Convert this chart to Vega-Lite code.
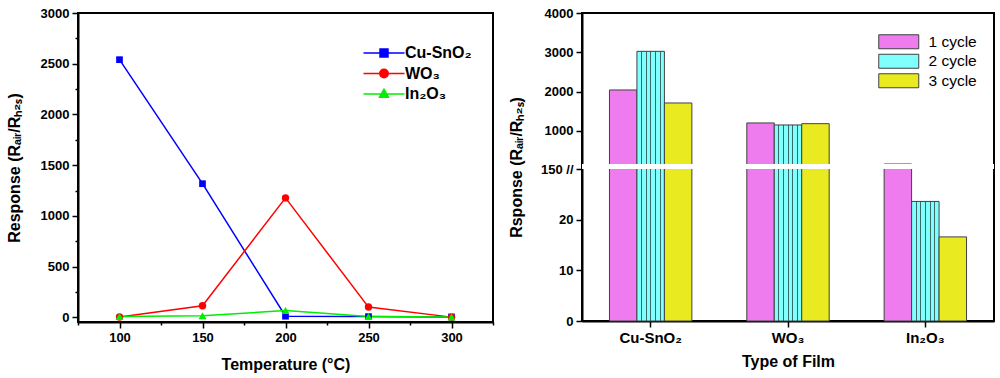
{
  "$schema": "https://vega.github.io/schema/vega-lite/v6.json",
  "background": "white",
  "padding": {"left": 5, "top": 6, "right": 5, "bottom": 0},
  "spacing": 12,
  "config": {
    "view": {"stroke": "black", "strokeWidth": 2},
    "axis": {
      "grid": false,
      "domainColor": "black", "domainWidth": 2,
      "tickColor": "black", "tickWidth": 1.5,
      "labelFont": "Liberation Sans", "labelFontWeight": "bold", "labelFontSize": 13, "labelColor": "black",
      "titleFont": "Liberation Sans", "titleFontWeight": "bold", "titleFontSize": 16, "titleColor": "black"
    },
    "legend": {"labelFont": "Liberation Sans", "labelColor": "black", "padding": 0}
  },
  "hconcat": [
    {
      "width": 415,
      "height": 309,
      "data": {"values": [
        {"temp": 100, "response": 2540, "film": "Cu-SnO₂"},
        {"temp": 150, "response": 1318, "film": "Cu-SnO₂"},
        {"temp": 200, "response": 12, "film": "Cu-SnO₂"},
        {"temp": 250, "response": 8, "film": "Cu-SnO₂"},
        {"temp": 300, "response": 5, "film": "Cu-SnO₂"},
        {"temp": 100, "response": 4, "film": "WO₃"},
        {"temp": 150, "response": 115, "film": "WO₃"},
        {"temp": 200, "response": 1178, "film": "WO₃"},
        {"temp": 250, "response": 102, "film": "WO₃"},
        {"temp": 300, "response": 3, "film": "WO₃"},
        {"temp": 100, "response": 10, "film": "In₂O₃"},
        {"temp": 150, "response": 16, "film": "In₂O₃"},
        {"temp": 200, "response": 68, "film": "In₂O₃"},
        {"temp": 250, "response": 10, "film": "In₂O₃"},
        {"temp": 300, "response": 5, "film": "In₂O₃"}
      ]},
      "encoding": {
        "x": {"field": "temp", "type": "quantitative",
          "scale": {"domain": [75, 325], "nice": false},
          "axis": {"values": [75,100,125,150,175,200,225,250,275,300,325],
            "format": "d",
            "labelExpr": "datum.value % 50 === 0 ? datum.label : ''",
            "tickSize": {"condition": {"test": "datum.value % 50 !== 0", "value": 3}, "value": 6},
            "labelPadding": 3, "titlePadding": 12, "title": "Temperature (°C)"}},
        "y": {"field": "response", "type": "quantitative",
          "scale": {"domain": [-45, 3000], "nice": false, "zero": false},
          "axis": {"values": [0,250,500,750,1000,1250,1500,1750,2000,2250,2500,2750,3000],
            "format": "d",
            "labelExpr": "datum.value % 500 === 0 ? datum.label : ''",
            "tickSize": {"condition": {"test": "datum.value % 500 !== 0", "value": 3}, "value": 6},
            "labelPadding": 3, "titlePadding": 18, "title": "Response (Rₐᵢᵣ/Rₕ₂ₛ)"}},
        "color": {"field": "film", "type": "nominal",
          "scale": {"domain": ["Cu-SnO₂", "WO₃", "In₂O₃"], "range": ["#0000ff", "#ff0000", "#00ee00"]},
          "legend": {"title": null, "orient": "none", "legendX": 298, "legendY": 32,
            "labelFontSize": 16, "labelFontWeight": "bold", "labelOffset": 13, "rowPadding": 4.5,
            "symbolSize": 100, "symbolStrokeWidth": 1.5,
            "encode": {"symbols": {"update": {
              "shape": {"signal": "datum.value === 'Cu-SnO₂' ? 'M-4.1,0H4.1M-0.8,-0.8H0.8V0.8H-0.8Z' : datum.value === 'WO₃' ? 'M-4.1,0H4.1M0.85,0A0.85,0.85,0,1,1,-0.85,0A0.85,0.85,0,1,1,0.85,0Z' : 'M-4.1,0H4.1M0,-0.95L0.9,0.65H-0.9Z'"},
              "stroke": {"signal": "scale('color', datum.value)"},
              "fill": {"signal": "scale('color', datum.value)"},
              "strokeWidth": {"value": 1.5},
              "opacity": {"value": 1}
            }}}}}
      },
      "layer": [
        {"mark": {"type": "line", "strokeWidth": 1.5}},
        {"transform": [{"filter": "datum.film === 'Cu-SnO₂'"}],
          "mark": {"type": "point", "filled": true, "opacity": 1, "size": 45, "shape": "square"}},
        {"transform": [{"filter": "datum.film === 'WO₃'"}],
          "mark": {"type": "point", "filled": true, "opacity": 1, "size": 55, "shape": "circle"}},
        {"transform": [{"filter": "datum.film === 'In₂O₃'"}],
          "mark": {"type": "point", "filled": true, "opacity": 1, "size": 65, "shape": "triangle-up"}}
      ]
    },
    {
      "width": 412,
      "height": 308,
      "data": {"values": [
        {"film": "Cu-SnO₂", "cycle": "1 cycle", "response": 2043},
        {"film": "Cu-SnO₂", "cycle": "2 cycle", "response": 3025},
        {"film": "Cu-SnO₂", "cycle": "3 cycle", "response": 1712},
        {"film": "WO₃", "cycle": "1 cycle", "response": 1204},
        {"film": "WO₃", "cycle": "2 cycle", "response": 1153},
        {"film": "WO₃", "cycle": "3 cycle", "response": 1186},
        {"film": "In₂O₃", "cycle": "1 cycle", "response": 160},
        {"film": "In₂O₃", "cycle": "2 cycle", "response": 23.6},
        {"film": "In₂O₃", "cycle": "3 cycle", "response": 16.6}
      ]},
      "layer": [
        {
          "mark": {"type": "bar", "stroke": "#404040", "strokeWidth": 1},
          "encoding": {
            "x": {"field": "film", "type": "nominal", "sort": ["Cu-SnO₂", "WO₃", "In₂O₃"],
              "scale": {"paddingInner": 0.4, "paddingOuter": 0.2},
              "axis": {"labelAngle": 0, "labelFontSize": 15, "tickSize": 6, "labelPadding": 3, "titlePadding": 8, "title": "Type of Film"}},
            "xOffset": {"field": "cycle", "type": "nominal", "scale": {"paddingInner": 0, "paddingOuter": 0}},
            "y": {"field": "response", "type": "quantitative",
              "scale": {"domain": [0, 30, 150, 4000], "range": [308, 156, 151.4, 0], "nice": false, "zero": false},
              "axis": {"values": [0,5,10,15,20,25,30,500,1000,1500,2000,2500,3000,3500,4000],
                "format": "d",
                "labelExpr": "datum.value === 30 ? '150 //' : (datum.value % 10 === 0 && datum.value <= 20) || datum.value % 1000 === 0 ? datum.label : ''",
                "tickSize": {"condition": {"test": "datum.value === 5 || datum.value === 15 || datum.value === 25 || datum.value % 1000 === 500", "value": 3}, "value": 6},
                "labelPadding": 3, "titlePadding": 16, "title": "Rsponse (Rₐᵢᵣ/Rₕ₂ₛ)"}},
            "fill": {
              "condition": {"test": "datum.cycle === '2 cycle'",
                "value": {"gradient": "linear", "x1": 0, "y1": 0, "x2": 1, "y2": 0, "stops": [
                  {"offset": 0, "color": "#80ffff"}, {"offset": 0.15, "color": "#80ffff"},
                  {"offset": 0.15, "color": "#3a6a6a"}, {"offset": 0.19, "color": "#3a6a6a"},
                  {"offset": 0.19, "color": "#80ffff"}, {"offset": 0.32, "color": "#80ffff"},
                  {"offset": 0.32, "color": "#3a6a6a"}, {"offset": 0.36, "color": "#3a6a6a"},
                  {"offset": 0.36, "color": "#80ffff"}, {"offset": 0.49, "color": "#80ffff"},
                  {"offset": 0.49, "color": "#3a6a6a"}, {"offset": 0.53, "color": "#3a6a6a"},
                  {"offset": 0.53, "color": "#80ffff"}, {"offset": 0.66, "color": "#80ffff"},
                  {"offset": 0.66, "color": "#3a6a6a"}, {"offset": 0.70, "color": "#3a6a6a"},
                  {"offset": 0.70, "color": "#80ffff"}, {"offset": 0.83, "color": "#80ffff"},
                  {"offset": 0.83, "color": "#3a6a6a"}, {"offset": 0.87, "color": "#3a6a6a"},
                  {"offset": 0.87, "color": "#80ffff"}, {"offset": 1, "color": "#80ffff"}
                ]}},
              "field": "cycle", "type": "nominal",
              "scale": {"domain": ["1 cycle", "2 cycle", "3 cycle"], "range": ["#ee7cee", "#80ffff", "#eaea20"]},
              "legend": {"title": null, "orient": "none", "legendX": 813, "legendY": 21,
                "labelFontSize": 15.5, "labelFontWeight": "normal", "labelOffset": 22, "rowPadding": 0.5,
                "symbolSize": 100, "symbolType": "M-4,-1.4H4V1.4H-4Z",
                "symbolStrokeColor": "#404040", "symbolStrokeWidth": 1}
            }
          }
        },
        {
          "mark": {"type": "rect", "fill": "white"},
          "encoding": {"y": {"datum": 30}, "y2": {"datum": 150}}
        }
      ]
    }
  ]
}
